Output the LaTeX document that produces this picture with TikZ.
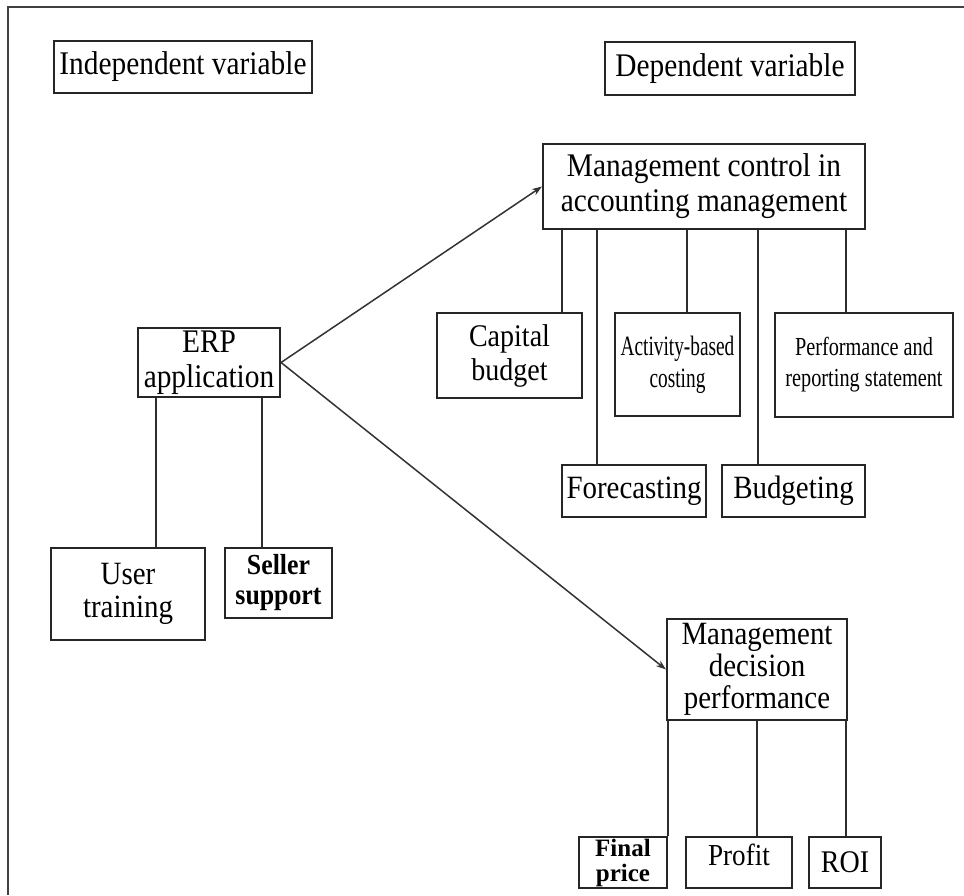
\documentclass[tikz,border=0pt]{standalone}
\usepackage{fontspec}
\setmainfont{Liberation Serif}
\newfontfamily\tall{Liberation Serif}[FakeStretch=0.89]
\newfontfamily\condA{Liberation Serif}[FakeStretch=0.69]
\newfontfamily\condB{Liberation Serif}[FakeStretch=0.78]
\usetikzlibrary{arrows.meta}
\begin{document}
\begin{tikzpicture}[x=1pt,y=-1pt,
  box/.style={draw=black!85, line width=2.1pt, inner sep=0pt, align=center, text=black},
  link/.style={draw=black!82, line width=1.9pt},
  arrowline/.style={draw=black!80, line width=1.5pt, -{Stealth[length=10pt,width=7pt]}}]
\useasboundingbox (0,0) rectangle (964,895);
\fill[white] (0,0) rectangle (964,895);
% frame
\draw[black!75, line width=2pt] (8,895) -- (8,7) -- (964,7);

% header boxes
\node[box, minimum width=258pt, minimum height=52pt, font=\fontsize{33}{36}\tall] (indep) at (183,67) {Independent variable};
\node[box, minimum width=250pt, minimum height=53pt, font=\fontsize{33}{36}\tall] (dep) at (730,68.5) {Dependent variable};

% management control
\node[box, minimum width=322pt, minimum height=85pt, font=\fontsize{33}{35}\tall] (mc) at (704,186.5) {Management control in\\accounting management};
\node[box, minimum width=145pt, minimum height=85pt, font=\fontsize{31.5}{34}\tall] (cb) at (509.5,355.5) {Capital\\budget};
\node[box, minimum width=125pt, minimum height=103pt, font=\fontsize{28}{32}\condA] (abc) at (677.5,364.5) {Activity-based\\costing};
\node[box, minimum width=178pt, minimum height=104pt, font=\fontsize{26}{31}\condB] (perf) at (864,365) {Performance and\\reporting statement};
\node[box, minimum width=144pt, minimum height=52pt, font=\fontsize{32.5}{35}\tall] (fc) at (634,491) {Forecasting};
\node[box, minimum width=143pt, minimum height=52pt, font=\fontsize{32.5}{35}\tall] (bud) at (793.5,491) {Budgeting};

% ERP side
\node[box, minimum width=142pt, minimum height=69pt, font=\fontsize{33}{35}\tall] (erp) at (209,362.5) {ERP\\application};
\node[box, minimum width=154pt, minimum height=92pt, font=\fontsize{32.5}{33}\tall] (ut) at (128,594) {User\\training};
\node[box, minimum width=107pt, minimum height=70pt, font=\fontsize{29}{30}\tall\bfseries] (ss) at (278.5,583) {Seller\\support};

% management decision
\node[box, minimum width=180pt, minimum height=101pt, font=\fontsize{32.5}{32}\tall] (mdp) at (757,669.5) {Management\\decision\\performance};
\node[box, minimum width=88pt, minimum height=51pt, font=\fontsize{25}{25}\selectfont\bfseries] (fp) at (623,862.5) {Final\\price};
\node[box, minimum width=106pt, minimum height=51pt, text height=21pt, text depth=16pt, font=\fontsize{30.5}{32}\tall] (prof) at (739,862.5) {Profit};
\node[box, minimum width=72pt, minimum height=51pt, font=\fontsize{31.5}{32}\tall] (roi) at (845,862.5) {ROI};

% x positions of connectors
\coordinate (xa) at (562,0);
\coordinate (xb) at (597,0);
\coordinate (xc) at (687,0);
\coordinate (xd) at (758,0);
\coordinate (xe) at (846,0);
\coordinate (xf) at (156,0);
\coordinate (xg) at (262,0);
\coordinate (xh) at (668,0);
\coordinate (xi) at (757,0);
\coordinate (xj) at (846,0);

% connectors
\draw[link] (mc.south -| xa) -- (cb.north -| xa);
\draw[link] (mc.south -| xb) -- (fc.north -| xb);
\draw[link] (mc.south -| xc) -- (abc.north -| xc);
\draw[link] (mc.south -| xd) -- (bud.north -| xd);
\draw[link] (mc.south -| xe) -- (perf.north -| xe);
\draw[link] (erp.south -| xf) -- (ut.north -| xf);
\draw[link] (erp.south -| xg) -- (ss.north -| xg);
\draw[link] (mdp.south -| xh) -- (fp.north -| xh);
\draw[link] (mdp.south -| xi) -- (prof.north -| xi);
\draw[link] (mdp.south -| xj) -- (roi.north -| xj);

% arrows
\draw[arrowline] (erp.east) -- (mc.west);
\draw[arrowline] (erp.east) -- (mdp.west);
\end{tikzpicture}
\end{document}
